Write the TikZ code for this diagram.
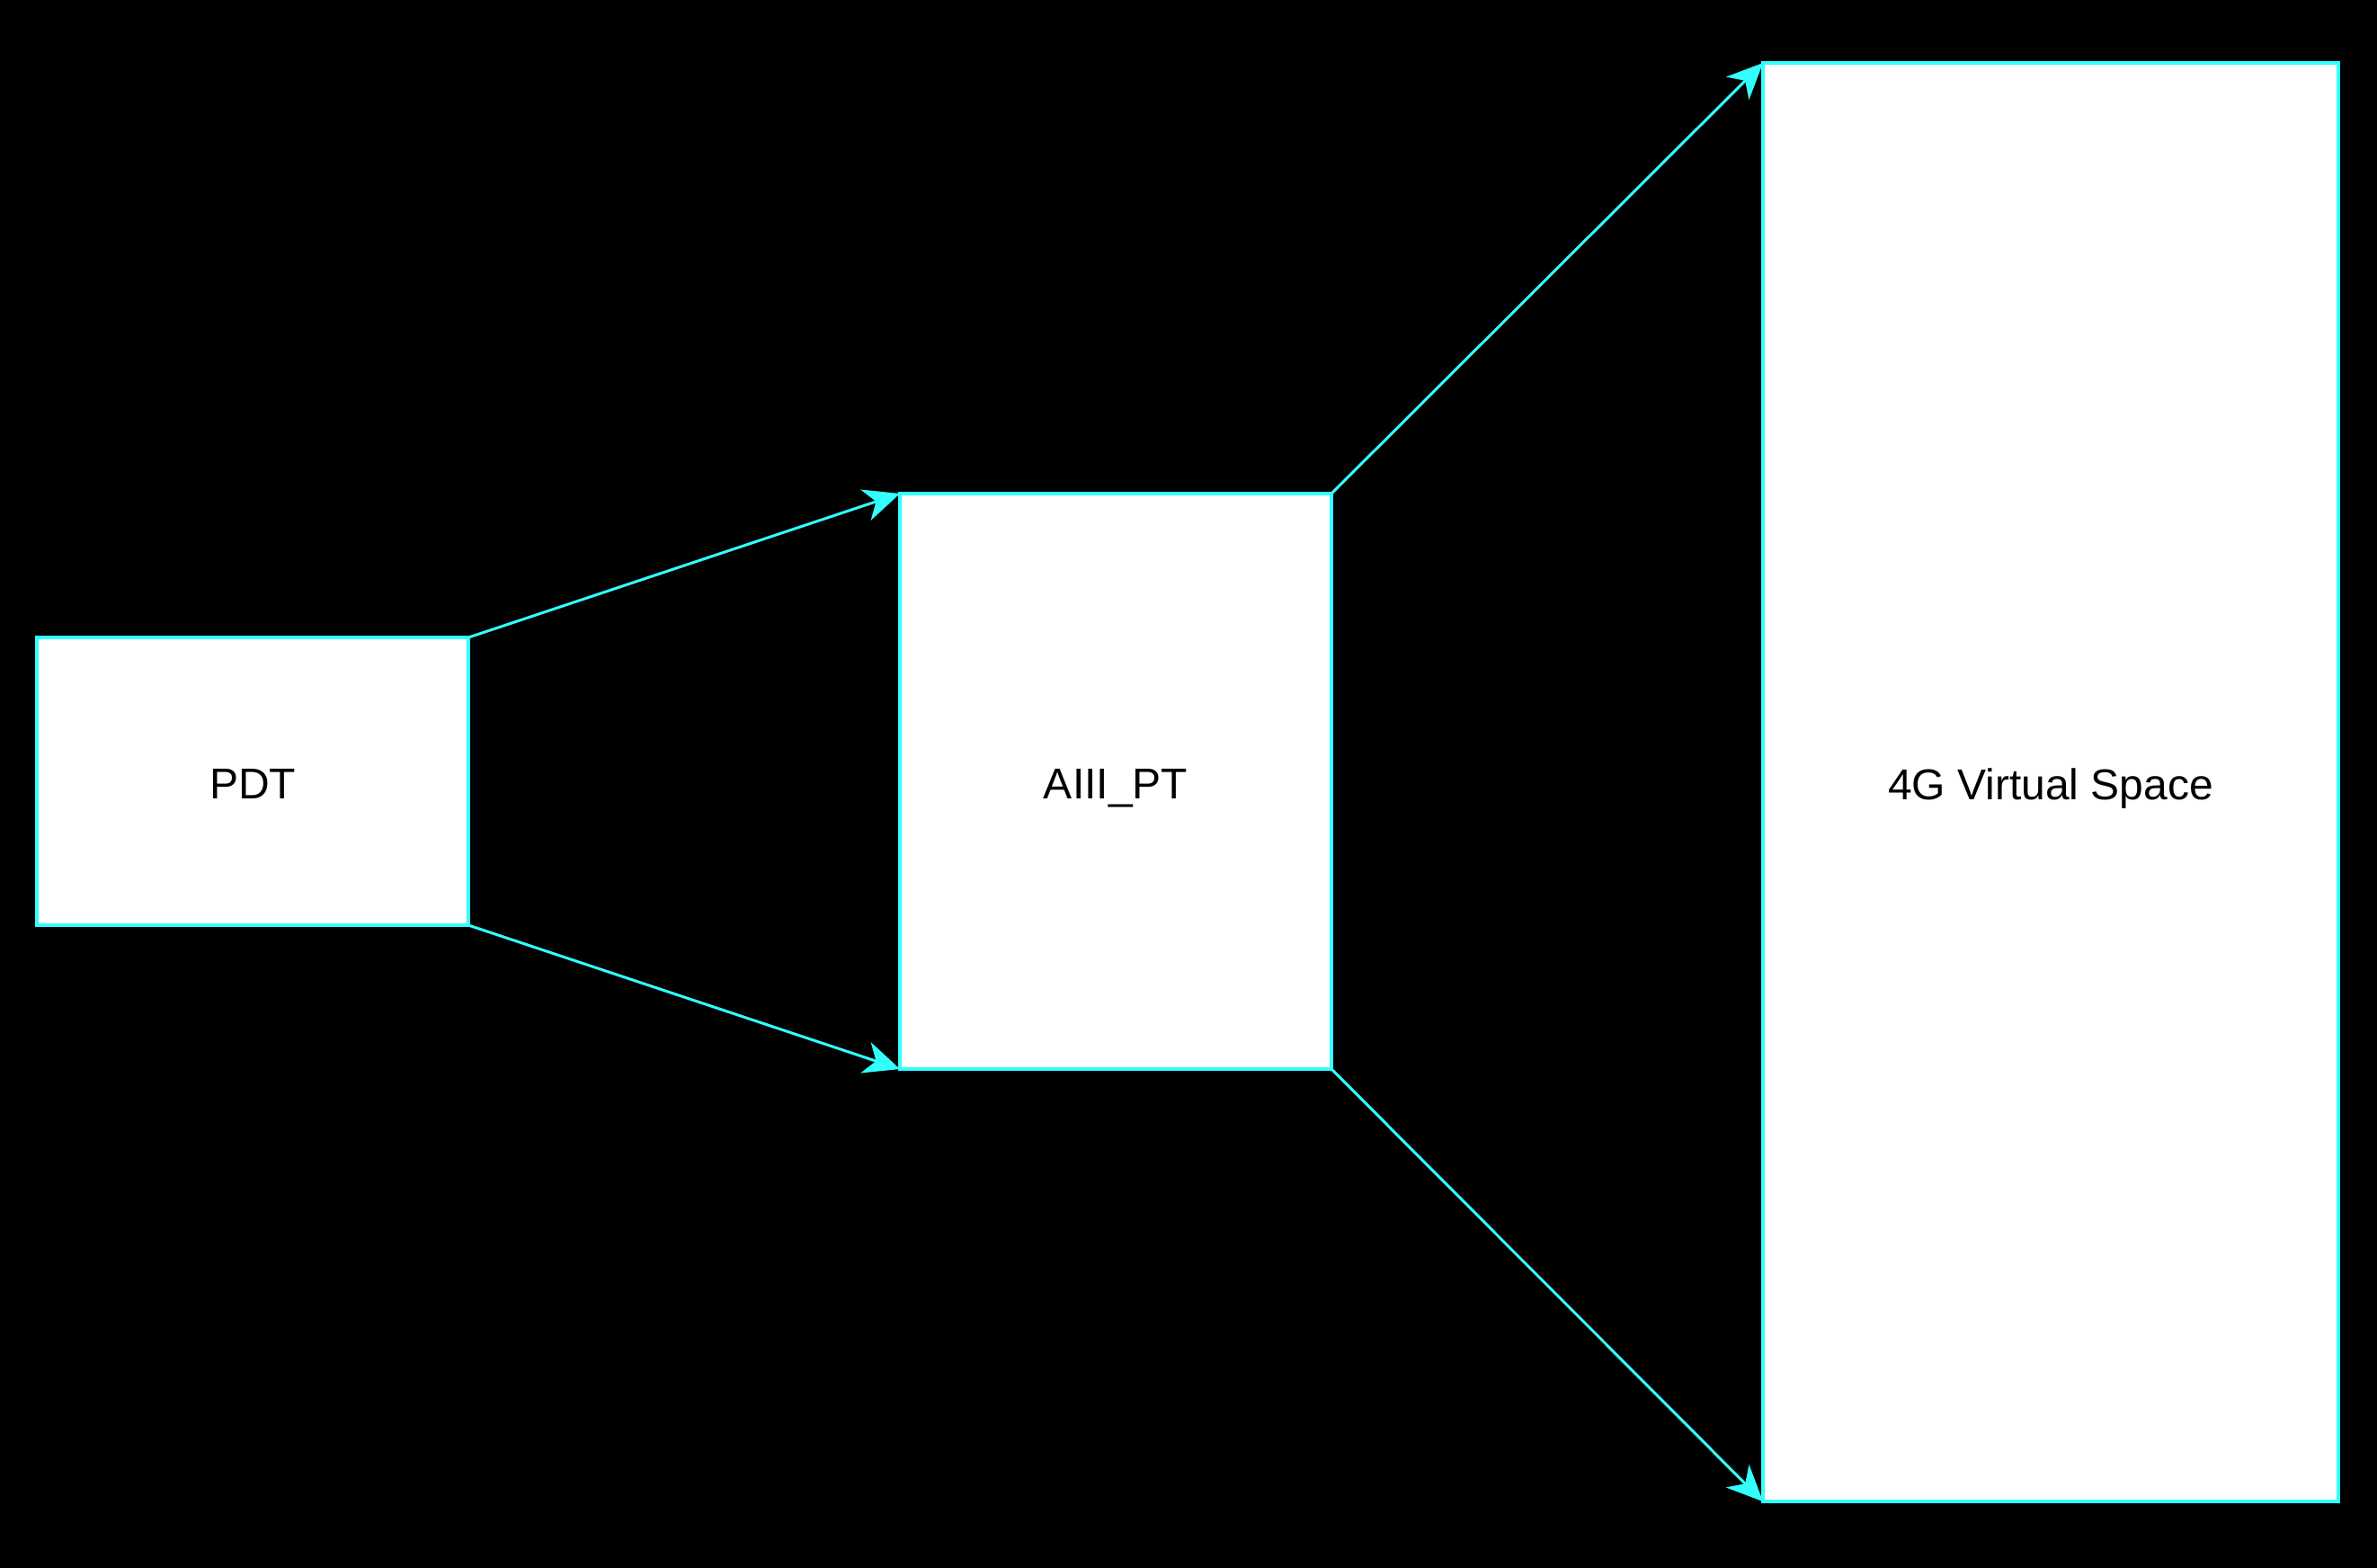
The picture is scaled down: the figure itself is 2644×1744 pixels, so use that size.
\documentclass[tikz,border=0pt]{standalone}
\usepackage{fontspec}
\setmainfont{Liberation Sans}
\usetikzlibrary{arrows.meta}
\definecolor{edgecyan}{HTML}{33FFFF}
\begin{document}
\begin{tikzpicture}[x=1pt,y=-1pt,
  box/.style={draw=edgecyan, fill=white, line width=4pt, inner sep=0pt, outer sep=0pt,
    font=\fontsize{48}{56}\selectfont, text=black, text height=39pt, text depth=0pt},
  conn/.style={draw=edgecyan, line width=3pt, -{Stealth[length=40pt,width=36pt,inset=12pt]}}]
\fill[black] (0,0) rectangle (2644,1744);
\useasboundingbox (0,0) rectangle (2644,1744);
\node[box, minimum width=480pt, minimum height=320pt] (pdt) at (281,869) {PDT};
\node[box, minimum width=480pt, minimum height=640pt] (aiii) at (1241,869) {AIII\_PT};
\node[box, minimum width=640pt, minimum height=1600pt] (vs) at (2281,870) {4G Virtual Space};
\draw[conn] (pdt.north east) -- (aiii.north west);
\draw[conn] (pdt.south east) -- (aiii.south west);
\draw[conn] (aiii.north east) -- (vs.north west);
\draw[conn] (aiii.south east) -- (vs.south west);
\end{tikzpicture}
\end{document}
